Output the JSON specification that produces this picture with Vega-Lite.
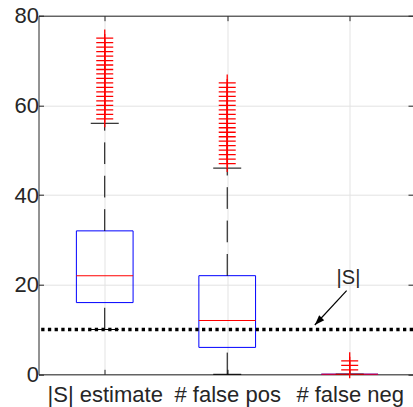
{
  "$schema": "https://vega.github.io/schema/vega-lite/v6.json",
  "autosize": {"type": "none"},
  "padding": {"left": 38.5, "top": 15.7, "right": 0, "bottom": 32.7},
  "width": 374.5,
  "height": 358.6,
  "background": "white",
  "config": {
    "view": {"stroke": null},
    "font": "Liberation Sans",
    "axis": {
      "labelFont": "Liberation Sans",
      "labelFontSize": 22,
      "labelColor": "#262626",
      "domainColor": "#262626",
      "tickColor": "#262626",
      "gridColor": "#e3e3e3",
      "title": null,
      "labelFlush": false,
      "labelOverlap": false,
      "labelBound": false
    }
  },
  "datasets": {
    "boxes": [
      {"cat": 1, "q1": 16, "med": 22, "q3": 32, "wlo": 10, "whi": 56},
      {"cat": 2, "q1": 6, "med": 12, "q3": 22, "wlo": 0, "whi": 46},
      {"cat": 3, "q1": 0, "med": 0, "q3": 0, "wlo": 0, "whi": 0}
    ],
    "outliers": [
      {"cat": 1, "v": 57}, {"cat": 1, "v": 58}, {"cat": 1, "v": 59}, {"cat": 1, "v": 60}, {"cat": 1, "v": 61},
      {"cat": 1, "v": 62}, {"cat": 1, "v": 63}, {"cat": 1, "v": 64}, {"cat": 1, "v": 65}, {"cat": 1, "v": 66},
      {"cat": 1, "v": 67}, {"cat": 1, "v": 68}, {"cat": 1, "v": 69}, {"cat": 1, "v": 70}, {"cat": 1, "v": 71},
      {"cat": 1, "v": 72}, {"cat": 1, "v": 73}, {"cat": 1, "v": 74}, {"cat": 1, "v": 75},
      {"cat": 2, "v": 47}, {"cat": 2, "v": 48}, {"cat": 2, "v": 49}, {"cat": 2, "v": 50}, {"cat": 2, "v": 51},
      {"cat": 2, "v": 52}, {"cat": 2, "v": 53}, {"cat": 2, "v": 54}, {"cat": 2, "v": 55}, {"cat": 2, "v": 56},
      {"cat": 2, "v": 57}, {"cat": 2, "v": 58}, {"cat": 2, "v": 59}, {"cat": 2, "v": 60}, {"cat": 2, "v": 61},
      {"cat": 2, "v": 62}, {"cat": 2, "v": 63}, {"cat": 2, "v": 64}, {"cat": 2, "v": 65},
      {"cat": 3, "v": 1}, {"cat": 3, "v": 2}, {"cat": 3, "v": 3}
    ],
    "arrow": [{"x": 2.975, "y": 18.65, "x2": 2.715, "y2": 11.0}],
    "note": [{"x": 2.99, "y": 20.1, "label": "|S|"}]
  },
  "resolve": {"axis": {"x": "independent", "y": "independent"}},
  "layer": [
    {
      "data": {"name": "boxes"},
      "mark": {"type": "bar", "width": 56.7, "fill": "transparent", "stroke": "#0000ff", "strokeWidth": 1},
      "encoding": {
        "x": {
          "field": "cat", "type": "quantitative",
          "scale": {"domain": [0.5, 3.476], "nice": false, "zero": false},
          "axis": {
            "orient": "bottom", "values": [1, 2, 3], "grid": true, "tickSize": -5, "labelPadding": 15,
            "labelExpr": "datum.value == 1 ? '|S| estimate' : datum.value == 2 ? '# false pos' : '# false neg'"
          }
        },
        "y": {
          "field": "q1", "type": "quantitative",
          "scale": {"domain": [0, 80], "nice": false, "zero": false},
          "axis": {"orient": "left", "values": [0, 20, 40, 60, 80], "grid": true, "tickSize": -5, "labelPadding": 5}
        },
        "y2": {"field": "q3"}
      }
    },
    {
      "data": {"name": "boxes"},
      "mark": {"type": "rule", "color": "#000000", "strokeWidth": 1, "strokeDash": [21.7, 11.7]},
      "encoding": {
        "x": {"field": "cat", "type": "quantitative", "axis": null},
        "y": {"field": "q3", "type": "quantitative", "axis": null},
        "y2": {"field": "whi"}
      }
    },
    {
      "data": {"name": "boxes"},
      "mark": {"type": "rule", "color": "#000000", "strokeWidth": 1, "strokeDash": [21.7, 11.7]},
      "encoding": {
        "x": {"field": "cat", "type": "quantitative", "axis": null},
        "y": {"field": "wlo", "type": "quantitative", "axis": null},
        "y2": {"field": "q1"}
      }
    },
    {
      "data": {"name": "boxes"},
      "mark": {"type": "tick", "orient": "horizontal", "size": 28, "thickness": 1, "color": "#000000", "opacity": 1},
      "encoding": {
        "x": {"field": "cat", "type": "quantitative", "axis": null},
        "y": {"field": "whi", "type": "quantitative", "axis": null}
      }
    },
    {
      "data": {"name": "boxes"},
      "mark": {"type": "tick", "orient": "horizontal", "size": 28, "thickness": 1, "color": "#000000", "opacity": 1},
      "encoding": {
        "x": {"field": "cat", "type": "quantitative", "axis": null},
        "y": {"field": "wlo", "type": "quantitative", "axis": null}
      }
    },
    {
      "data": {"name": "boxes"},
      "mark": {"type": "tick", "orient": "horizontal", "size": 56.7, "thickness": 1, "color": "#ff0000", "opacity": 1},
      "encoding": {
        "x": {"field": "cat", "type": "quantitative", "axis": null},
        "y": {"field": "med", "type": "quantitative", "axis": null}
      }
    },
    {
      "data": {"name": "outliers"},
      "mark": {"type": "point", "shape": "M-1,0H1M0,-1V1", "size": 289, "filled": false, "stroke": "#ff0000", "strokeWidth": 1.3, "opacity": 1},
      "encoding": {
        "x": {
          "field": "cat", "type": "quantitative",
          "axis": {"orient": "top", "values": [1, 2, 3], "labels": false, "grid": false, "tickSize": -5, "domain": true}
        },
        "y": {
          "field": "v", "type": "quantitative",
          "axis": {"orient": "right", "values": [0, 20, 40, 60, 80], "labels": false, "grid": false, "tickSize": -5, "domain": false}
        }
      }
    },
    {
      "data": {"values": [{"s": 10}]},
      "mark": {"type": "rule", "color": "#000000", "strokeWidth": 3.3, "strokeDash": [3.3, 3.4]},
      "encoding": {"y": {"field": "s", "type": "quantitative", "axis": null}}
    },
    {
      "data": {"name": "arrow"},
      "mark": {"type": "rule", "color": "#000000", "strokeWidth": 1.2},
      "encoding": {
        "x": {"field": "x", "type": "quantitative", "axis": null},
        "x2": {"field": "x2"},
        "y": {"field": "y", "type": "quantitative", "axis": null},
        "y2": {"field": "y2"}
      }
    },
    {
      "data": {"name": "arrow"},
      "mark": {"type": "point", "shape": "M0,0L-0.35,1L0.35,1Z", "size": 400, "filled": true, "color": "#000000", "opacity": 1, "angle": 223.6, "strokeWidth": 0},
      "encoding": {
        "x": {"field": "x2", "type": "quantitative", "axis": null},
        "y": {"field": "y2", "type": "quantitative", "axis": null}
      }
    },
    {
      "data": {"name": "note"},
      "mark": {"type": "text", "font": "Liberation Sans", "fontSize": 20, "color": "#262626", "align": "center", "baseline": "alphabetic"},
      "encoding": {
        "x": {"field": "x", "type": "quantitative", "axis": null},
        "y": {"field": "y", "type": "quantitative", "axis": null},
        "text": {"field": "label"}
      }
    }
  ]
}
